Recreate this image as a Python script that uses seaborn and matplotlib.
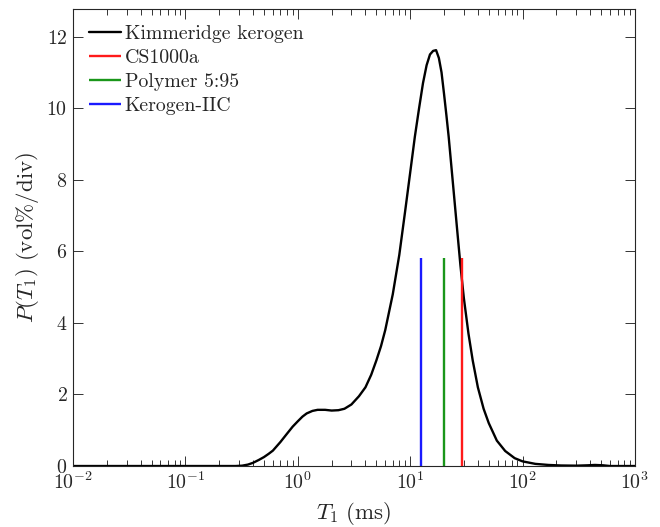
import numpy as np
import pandas as pd
import matplotlib
matplotlib.use("Agg")
import matplotlib.pyplot as plt
import seaborn as sns

# Kimmeridge kerogen T1 distribution
t1_ms = [0.01, 0.05, 0.1, 0.2, 0.28, 0.32, 0.36, 0.4, 0.45, 0.5, 0.55, 0.6, 0.7, 0.8,
         0.9, 1.0, 1.1, 1.2, 1.35, 1.5, 1.75, 2.0, 2.3, 2.6, 3.0, 3.5, 4.0, 4.5,
         5.0, 5.5, 6.0, 7.0, 8.0, 9.0, 10.0, 11.0, 12.0, 13.0, 14.0, 15.0, 16.0, 17.0,
         18.0, 19.0, 20.0, 21.0, 22.0, 24.0, 26.0, 28.0, 30.0, 33.0, 36.0, 40.0, 45.0,
         50.0, 59.0, 70.0, 85.0, 100.0, 130.0, 170.0, 220.0, 300.0, 380.0, 440.0,
         520.0, 600.0, 1000.0]
p_t1 = [0.0, 0.0, 0.0, 0.0, 0.0, 0.01, 0.04, 0.09, 0.17, 0.25, 0.34, 0.43, 0.67, 0.9,
        1.1, 1.25, 1.38, 1.47, 1.54, 1.57, 1.57, 1.55, 1.56, 1.6, 1.72, 1.95, 2.2, 2.55,
        2.95, 3.35, 3.8, 4.8, 5.9, 7.1, 8.2, 9.2, 10.0, 10.7, 11.2, 11.5, 11.6, 11.62,
        11.4, 11.0, 10.4, 9.8, 9.2, 7.9, 6.7, 5.6, 4.7, 3.7, 2.95, 2.2, 1.6,
        1.2, 0.71, 0.42, 0.22, 0.13, 0.06, 0.03, 0.015, 0.01, 0.02, 0.03,
        0.02, 0.0, 0.0]

# Reference T1 values (vertical markers)
ref_names = ["CS1000a", "Polymer 5:95", "Kerogen-IIC"]
ref_t1 = [28.7, 20.0, 12.6]
ref_height = [5.8, 5.8, 5.8]
ref_colors = ["#ff1a1a", "#1a961a", "#1a1aff"]

sns.set_style("ticks")
plt.rcParams["font.family"] = ["cmr10", "DejaVu Serif"]
plt.rcParams["mathtext.fontset"] = "cm"
plt.rcParams["axes.formatter.use_mathtext"] = True
plt.rcParams["axes.unicode_minus"] = False

fig = plt.figure(figsize=(6.6, 5.27), dpi=100)
ax = fig.add_axes([0.1106, 0.1157, 0.8515, 0.8672])

df = pd.DataFrame({"T1": t1_ms, "P": p_t1})
sns.lineplot(data=df, x="T1", y="P", ax=ax, color="black", lw=1.7,
             label="Kimmeridge kerogen")
for name, x, h, c in zip(ref_names, ref_t1, ref_height, ref_colors):
    ax.vlines(x, 0, h, colors=c, lw=1.7, label=name)

ax.set_xscale("log")
ax.set_xlim(1e-2, 1e3)
ax.set_ylim(0, 12.77)
ax.set_yticks([0, 2, 4, 6, 8, 10, 12])
ax.set_xticks([1e-2, 1e-1, 1e0, 1e1, 1e2, 1e3])
ax.xaxis.set_minor_locator(matplotlib.ticker.LogLocator(base=10, subs=np.arange(2, 10)))
ax.xaxis.set_minor_formatter(matplotlib.ticker.NullFormatter())

ax.tick_params(which="both", direction="in", top=True, right=True, labelsize=14.3,
               width=0.7, color="#333333", pad=4)
ax.tick_params(which="major", length=7.5)
ax.tick_params(which="minor", length=4.5)
for s in ax.spines.values():
    s.set_linewidth(0.8)

ax.set_xlabel(r"$T_1\ \mathrm{(ms)}$", fontsize=16.5, labelpad=5)
ax.set_ylabel(r"$P(T_1)\ \mathrm{(vol\%/div)}$", fontsize=16.5, labelpad=4)

leg = ax.legend(loc="upper left", frameon=False, fontsize=14.3, handlelength=1.6,
                handletextpad=0.2, labelspacing=0.3, borderaxespad=0.5,
                borderpad=0.3)

fig.savefig("out.png", dpi=100)
